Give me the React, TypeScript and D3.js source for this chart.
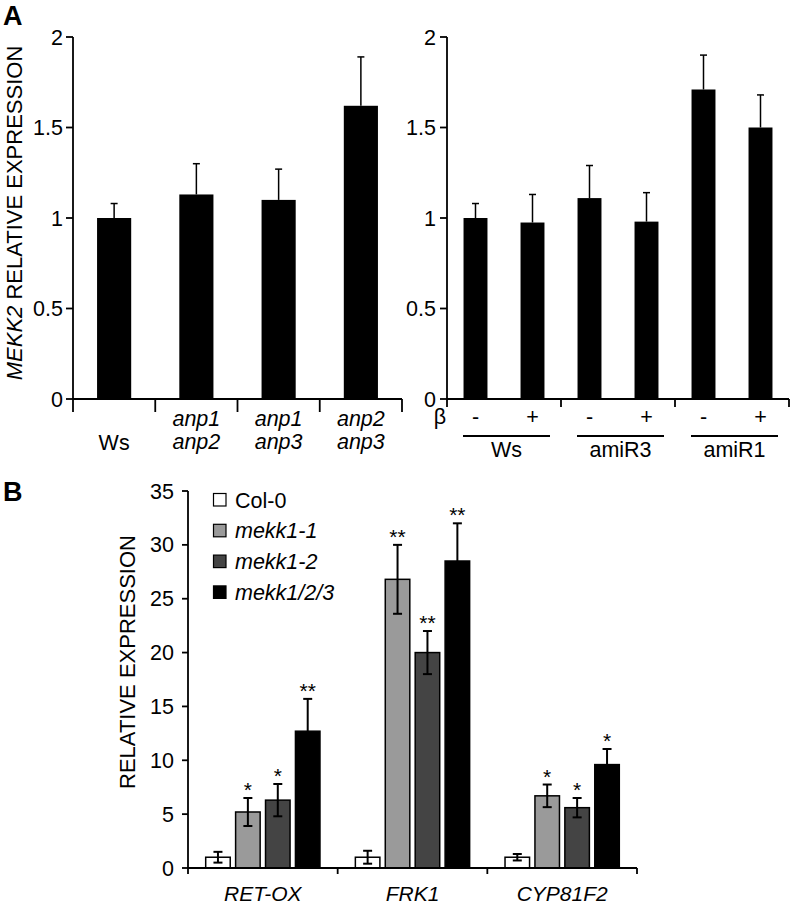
import React from "react";
import * as d3 from "d3";

// ---------- Panel A (left) ----------
const catsA1: string[][] = [["Ws"], ["anp1", "anp2"], ["anp1", "anp3"], ["anp2", "anp3"]];
const valsA1: number[] = [1.0, 1.13, 1.1, 1.62];
const errA1: number[] = [0.08, 0.17, 0.17, 0.27];

// ---------- Panel A (right) ----------
const betaA2: string[] = ["-", "+", "-", "+", "-", "+"];
const groupsA2: string[] = ["Ws", "amiR3", "amiR1"];
const valsA2: number[] = [1.0, 0.975, 1.11, 0.98, 1.71, 1.5];
const errA2: number[] = [0.08, 0.155, 0.18, 0.16, 0.19, 0.18];

const ticksA: number[] = [0, 0.5, 1, 1.5, 2];

// ---------- Panel B ----------
const genesB: string[] = ["RET-OX", "FRK1", "CYP81F2"];
const seriesB: string[] = ["Col-0", "mekk1-1", "mekk1-2", "mekk1/2/3"];
const colorsB: string[] = ["#ffffff", "#9a9a9a", "#444444", "#000000"];
const valCol0: number[] = [1.0, 1.0, 1.0];
const valMekk11: number[] = [5.2, 26.8, 6.7];
const valMekk12: number[] = [6.3, 20.0, 5.6];
const valMekk123: number[] = [12.7, 28.5, 9.6];
const errCol0: number[] = [0.5, 0.6, 0.3];
const errMekk11: number[] = [1.3, 3.2, 1.05];
const errMekk12: number[] = [1.5, 2.0, 0.9];
const errMekk123: number[] = [3.0, 3.5, 1.45];
const starsCol0: string[] = ["", "", ""];
const starsMekk11: string[] = ["*", "**", "*"];
const starsMekk12: string[] = ["*", "**", "*"];
const starsMekk123: string[] = ["**", "**", "*"];
const ticksB: number[] = [0, 5, 10, 15, 20, 25, 30, 35];

const valsB = [valCol0, valMekk11, valMekk12, valMekk123];
const errsB = [errCol0, errMekk11, errMekk12, errMekk123];
const starsB = [starsCol0, starsMekk11, starsMekk12, starsMekk123];

const FONT = "'Liberation Sans', Arial, Helvetica, sans-serif";
const FS = 21.5;

export default function App() {
  // scales panel A
  const yA = d3.scaleLinear().domain([0, 2]).range([399, 37]);
  const xA1 = d3.scaleBand<number>().domain(d3.range(catsA1.length)).range([73, 402]).padding(0);
  const xA2 = d3.scaleBand<number>().domain(d3.range(valsA2.length)).range([447, 789]).padding(0);
  const barWA1 = xA1.bandwidth() * 0.415;
  const barWA2 = xA2.bandwidth() * 0.42;

  // scales panel B
  const yB = d3.scaleLinear().domain([0, 35]).range([868, 491]);
  const xB = d3.scaleBand<number>().domain(d3.range(genesB.length)).range([188, 637]).padding(0);
  const xBi = d3.scaleBand<number>().domain(d3.range(seriesB.length)).range([15, xB.bandwidth() - 15]).padding(0);
  const barWB = xBi.bandwidth() * 0.82;

  const axisStroke = 1.8;

  return (
    <svg
      width={793}
      height={907}
      style={{ position: "absolute", left: 0, top: 0, background: "#fff" }}
      fontFamily={FONT}
    >
      <rect x={0} y={0} width={793} height={907} fill="#fff" />
      {/* Panel letters */}
      <text x={3} y={25} fontSize={27} fontWeight="bold">A</text>
      <text x={3} y={501} fontSize={27} fontWeight="bold">B</text>

      {/* ===== Panel A left ===== */}
      <text transform="translate(22,213) rotate(-90)" fontSize={22} textAnchor="middle">
        <tspan fontStyle="italic">MEKK2</tspan> RELATIVE EXPRESSION
      </text>
      {/* y axis */}
      <line x1={73} x2={73} y1={yA(2)} y2={yA(0)} stroke="#000" strokeWidth={axisStroke} />
      {ticksA.map((t) => (
        <g key={"ta1" + t}>
          <line x1={66} x2={73} y1={yA(t)} y2={yA(t)} stroke="#000" strokeWidth={axisStroke} />
          <text x={63} y={yA(t) + 7.5} fontSize={FS} textAnchor="end">{t}</text>
        </g>
      ))}
      {/* bars */}
      {valsA1.map((v, i) => {
        const cx = (xA1(i) as number) + xA1.bandwidth() / 2;
        return (
          <g key={"ba1" + i}>
            <rect x={cx - barWA1 / 2} y={yA(v)} width={barWA1} height={yA(0) - yA(v)} fill="#000" />
            <line x1={cx} x2={cx} y1={yA(v)} y2={yA(v + errA1[i])} stroke="#000" strokeWidth={1.5} />
            <line x1={cx - 3.5} x2={cx + 3.5} y1={yA(v + errA1[i])} y2={yA(v + errA1[i])} stroke="#000" strokeWidth={1.5} />
          </g>
        );
      })}
      {/* x axis */}
      <line x1={73} x2={402} y1={yA(0)} y2={yA(0)} stroke="#000" strokeWidth={axisStroke} />
      {[...d3.range(catsA1.length).map((i) => xA1(i) as number), 402].map((x, i) => (
        <line key={"xa1t" + i} x1={x} x2={x} y1={yA(0)} y2={412} stroke="#000" strokeWidth={axisStroke} />
      ))}
      {catsA1.map((c, i) => {
        const cx = (xA1(i) as number) + xA1.bandwidth() / 2;
        if (c.length === 1)
          return (
            <text key={"la1" + i} x={cx} y={450} fontSize={FS} textAnchor="middle">{c[0]}</text>
          );
        return (
          <text key={"la1" + i} x={cx} fontSize={FS} textAnchor="middle" fontStyle="italic">
            <tspan x={cx} y={426}>{c[0]}</tspan>
            <tspan x={cx} y={449}>{c[1]}</tspan>
          </text>
        );
      })}

      {/* ===== Panel A right ===== */}
      <line x1={447} x2={447} y1={yA(2)} y2={yA(0)} stroke="#000" strokeWidth={axisStroke} />
      {ticksA.map((t) => (
        <g key={"ta2" + t}>
          <line x1={440} x2={447} y1={yA(t)} y2={yA(t)} stroke="#000" strokeWidth={axisStroke} />
          <text x={436} y={yA(t) + 7.5} fontSize={FS} textAnchor="end">{t}</text>
        </g>
      ))}
      {valsA2.map((v, i) => {
        const cx = (xA2(i) as number) + xA2.bandwidth() / 2;
        return (
          <g key={"ba2" + i}>
            <rect x={cx - barWA2 / 2} y={yA(v)} width={barWA2} height={yA(0) - yA(v)} fill="#000" />
            <line x1={cx} x2={cx} y1={yA(v)} y2={yA(v + errA2[i])} stroke="#000" strokeWidth={1.5} />
            <line x1={cx - 3.5} x2={cx + 3.5} y1={yA(v + errA2[i])} y2={yA(v + errA2[i])} stroke="#000" strokeWidth={1.5} />
            <text x={cx} y={424} fontSize={FS} textAnchor="middle">{betaA2[i]}</text>
          </g>
        );
      })}
      <line x1={447} x2={789} y1={yA(0)} y2={yA(0)} stroke="#000" strokeWidth={axisStroke} />
      {[0, 2, 4].map((i) => xA2(i) as number).concat([789]).map((x, i) => (
        <line key={"xa2t" + i} x1={x} x2={x} y1={yA(0)} y2={407} stroke="#000" strokeWidth={axisStroke} />
      ))}
      <text x={440} y={424} fontSize={FS} textAnchor="middle">β</text>
      {groupsA2.map((g, gi) => {
        const x0 = xA2(gi * 2) as number;
        const x1 = (xA2(gi * 2 + 1) as number) + xA2.bandwidth();
        return (
          <g key={"ga2" + gi}>
            <line x1={x0 + 16} x2={x1 - 11} y1={436} y2={436} stroke="#000" strokeWidth={2} />
            <text x={(x0 + 16 + x1 - 11) / 2} y={457} fontSize={FS} textAnchor="middle">{g}</text>
          </g>
        );
      })}

      {/* ===== Panel B ===== */}
      <text transform="translate(135,662) rotate(-90)" fontSize={22} textAnchor="middle">
        RELATIVE EXPRESSION
      </text>
      <line x1={188} x2={188} y1={yB(35)} y2={yB(0)} stroke="#000" strokeWidth={axisStroke} />
      {ticksB.map((t) => (
        <g key={"tb" + t}>
          <line x1={182} x2={188} y1={yB(t)} y2={yB(t)} stroke="#000" strokeWidth={axisStroke} />
          <text x={174} y={yB(t) + 7.5} fontSize={FS} textAnchor="end">{t}</text>
        </g>
      ))}
      {genesB.map((g, gi) =>
        seriesB.map((s, si) => {
          const cx = (xB(gi) as number) + (xBi(si) as number) + xBi.bandwidth() / 2;
          const v = valsB[si][gi];
          const e = errsB[si][gi];
          return (
            <g key={"bb" + gi + "-" + si}>
              <rect
                x={cx - barWB / 2}
                y={yB(v)}
                width={barWB}
                height={yB(0) - yB(v)}
                fill={colorsB[si]}
                stroke="#000"
                strokeWidth={1.5}
              />
              <line x1={cx} x2={cx} y1={yB(v - e)} y2={yB(v + e)} stroke="#000" strokeWidth={2} />
              <line x1={cx - 4.5} x2={cx + 4.5} y1={yB(v + e)} y2={yB(v + e)} stroke="#000" strokeWidth={2} />
              <line x1={cx - 4.5} x2={cx + 4.5} y1={yB(v - e)} y2={yB(v - e)} stroke="#000" strokeWidth={2} />
              {starsB[si][gi] && (
                <text x={cx} y={yB(v + e) - 1} fontSize={21} textAnchor="middle">{starsB[si][gi]}</text>
              )}
            </g>
          );
        })
      )}
      <line x1={188} x2={637} y1={yB(0)} y2={yB(0)} stroke="#000" strokeWidth={axisStroke} />
      {[...d3.range(genesB.length).map((i) => xB(i) as number), 637].map((x, i) => (
        <line key={"xbt" + i} x1={x} x2={x} y1={yB(0)} y2={874} stroke="#000" strokeWidth={axisStroke} />
      ))}
      {genesB.map((g, gi) => (
        <text
          key={"gb" + gi}
          x={(xB(gi) as number) + xB.bandwidth() / 2}
          y={901}
          fontSize={21}
          fontStyle="italic"
          textAnchor="middle"
        >
          {g}
        </text>
      ))}
      {/* legend */}
      {seriesB.map((s, si) => {
        const cy = 500 + si * 30.8;
        return (
          <g key={"lg" + si}>
            <rect x={213.5} y={cy - 6.5} width={12.5} height={12.5} fill={colorsB[si]} stroke="#000" strokeWidth={1.2} />
            <text x={235} y={cy + 7.5} fontSize={FS} fontStyle={si === 0 ? "normal" : "italic"}>{s}</text>
          </g>
        );
      })}
    </svg>
  );
}
